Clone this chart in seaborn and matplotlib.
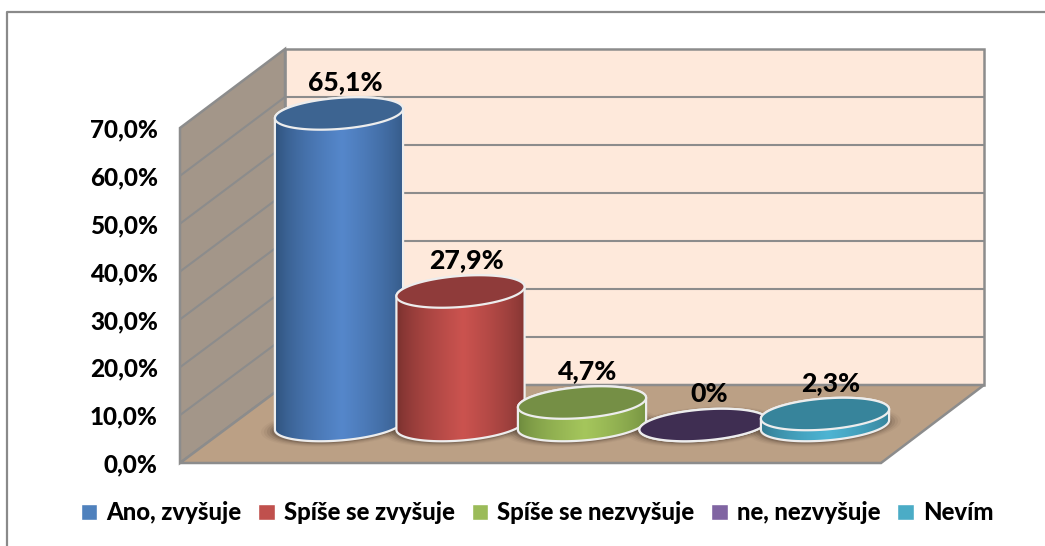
import numpy as np
import pandas as pd
import seaborn as sns
import matplotlib
matplotlib.use("Agg")
import matplotlib.pyplot as plt
from matplotlib.patches import Polygon
from matplotlib.lines import Line2D

categories = ["Ano, zvyšuje", "Spíše se zvyšuje", "Spíše se nezvyšuje", "ne, nezvyšuje", "Nevím"]
values = [65.1, 27.9, 4.7, 0.0, 2.3]
value_labels = ["65,1%", "27,9%", "4,7%", "0%", "2,3%"]
axis_ticks = [0, 10, 20, 30, 40, 50, 60, 70]
legend_colors = ["#4F81BD", "#C0504D", "#9BBB59", "#8064A2", "#4BACC6"]
top_colors = ["#3D6491", "#8F3B3A", "#758F45", "#3F2E52", "#37849B"]
mid_colors = ["#5587CB", "#CB534F", "#A5C65C", "#8064A2", "#4DB4D3"]
edge_colors = ["#2B4C73", "#6E2C2A", "#67833A", "#4A3A60", "#2F7388"]

W, H = 1045, 546
PX_X = 121.5     # pixels per category step
PX_V = 4.786     # pixels per percentage point
X0, Y0 = 339.0, 425.0   # pixel of first bar's base centre
FONT = "Lato"
WEIGHT = 900
FS_TICK = 17.5
FS_VAL = 19.2
FS_LEG = 17.2

sns.set_theme(style="white", rc={"font.family": FONT, "font.weight": "bold"})
fig = plt.figure(figsize=(W / 100, H / 100), dpi=100, facecolor="white")

ax = fig.add_axes([0, 0, 1, 1])
ax.set_xlim((0 - X0) / PX_X, (W - X0) / PX_X)
ax.set_ylim((Y0 - H) / PX_V, Y0 / PX_V)
ax.set_axis_off()

def d(px, py):
    """pixel position -> data position on the main axes"""
    return (np.asarray(px, float) - X0) / PX_X, (Y0 - np.asarray(py, float)) / PX_V

def poly(pts, **kw):
    xs, ys = d(*zip(*pts))
    p = Polygon(np.column_stack([xs, ys]), closed=True, **kw)
    ax.add_patch(p)
    return p

GRAY = "#8C8C8C"
# walls and floor
FL, FR, FB = 180, 881, 463
BL, BR, BB = 285, 984, 385
top_f = FB - 47.86 * (axis_ticks[-1] / 10)
top_b = BB - 48.0 * (axis_ticks[-1] / 10)
poly([(BL, top_b), (BR, top_b), (BR, BB), (BL, BB)], fc="#FEE9DB", ec=GRAY, lw=1.8, zorder=1)
poly([(FL, top_f), (BL, top_b), (BL, BB), (FL, FB)], fc="#A39689", ec=GRAY, lw=1.8, zorder=1.1)
for t in axis_ticks[1:-1]:
    k = t / 10
    gx, gy = d([FL, BL, BR], [FB - 47.86 * k, BB - 48.0 * k, BB - 48.0 * k])
    ax.plot(gx, gy, color=GRAY, lw=1.5, zorder=1.15, solid_capstyle="butt")
poly([(FL, FB), (FR, FB), (BR, BB), (BL, BB)], fc="#BBA085", ec=GRAY, lw=1.8, zorder=1.2)

# frame: left and top rules only
fig.add_artist(Line2D([7 / W, 7 / W, 1], [0, 1 - 11.5 / H, 1 - 11.5 / H], color="#8A8A8A", lw=1.6))

# bars through seaborn, reshaped into cylinders afterwards
df = pd.DataFrame({"pos": np.arange(len(values)), "value": values, "category": categories})
sns.barplot(data=df, x="pos", y="value", hue="category", hue_order=categories,
            palette=legend_colors, saturation=1, native_scale=True, dodge=False,
            width=1.055, ax=ax, legend=True, zorder=3)
ax.set_xlim((0 - X0) / PX_X, (W - X0) / PX_X)
ax.set_ylim((Y0 - H) / PX_V, Y0 / PX_V)
ax.set_axis_off()
bars = sorted([b for c in ax.containers for b in c], key=lambda b: b.get_x())

TILT = np.deg2rad(4.5)
MINOR = 15.5

def ell(cx, cy, a, b, t):
    ex = a * np.cos(t)
    ey = b * np.sin(t)
    return cx + ex * np.cos(TILT) + ey * np.sin(TILT), cy - ex * np.sin(TILT) + ey * np.cos(TILT)

def ell_poly(cx, cy, a, b, **kw):
    t = np.linspace(0, 2 * np.pi, 180)
    return poly(list(zip(*ell(cx, cy, a, b, t))), **kw)

def rgb(h):
    return np.array(matplotlib.colors.to_rgb(h))

LINE = "#EDEDED"
for i, b in enumerate(bars):
    z = 3 + i
    cx = X0 + (b.get_x() + b.get_width() / 2) * PX_X
    v = b.get_height()
    a = b.get_width() * PX_X / 2 / np.cos(TILT)
    cy_top = Y0 - v * PX_V
    # soft floor shadow
    for grow, al in zip([13, 10, 7, 4, 2], [0.05, 0.08, 0.12, 0.16, 0.2]):
        ell_poly(cx - 1, Y0 + 1.5, a + grow, MINOR + grow * 0.3, fc="#4A3C30", ec="none", alpha=al,
                 zorder=2 + i * 0.1)
    tb = np.linspace(0, np.pi, 60)            # lower half of an ellipse, right to left
    bottom = list(zip(*ell(cx, Y0, a, MINOR, tb)))
    tt = np.linspace(np.pi, 2 * np.pi, 60)    # upper half, left to right
    top = list(zip(*ell(cx, cy_top, a, MINOR, tt)))
    xs, ys = d(*zip(*(bottom + top)))
    body = Polygon(np.column_stack([xs, ys]), closed=True, fc="none", ec=LINE, lw=1.6, zorder=z + 0.3)
    ax.add_patch(body)
    b.set_zorder(z)
    b.set_clip_path(body)
    if v > 0:
        u = np.linspace(0, 1, 256)
        w = np.clip(1 - np.abs(u - 0.52) / 0.52, 0, 1) ** 0.6
        grad = (rgb(edge_colors[i])[None, :] * (1 - w[:, None]) + rgb(mid_colors[i])[None, :] * w[:, None])[None, :, :]
        x0, y0 = d(cx - a - 1, Y0 + MINOR + 4)
        x1, y1 = d(cx + a + 1, cy_top - MINOR - 4)
        im = ax.imshow(grad, extent=[x0, x1, y0, y1], aspect="auto", zorder=z + 0.1)
        im.set_clip_path(body)
    ell_poly(cx, cy_top, a, MINOR, fc=top_colors[i], ec=LINE, lw=1.6, zorder=z + 0.5)
    lx, ly = d(cx, cy_top)
    ax.annotate(value_labels[i], (lx, ly), xytext=(6, 31), textcoords="offset pixels",
                ha="center", va="center", fontsize=FS_VAL, fontweight=WEIGHT, color="black",
                family=FONT, zorder=20, annotation_clip=False)
ax.set_xlim((0 - X0) / PX_X, (W - X0) / PX_X)
ax.set_ylim((Y0 - H) / PX_V, Y0 / PX_V)

# value axis on the front edge of the side wall
ay = fig.add_axes([FL / W, 1 - FB / H, 0.001, (FB - top_f) / H], facecolor="none")
ay.set_ylim(axis_ticks[0], axis_ticks[-1])
ay.set_xticks([])
ay.set_yticks(axis_ticks)
ay.set_yticklabels([f"{t:.1f}%".replace(".", ",") for t in axis_ticks],
                   fontsize=FS_TICK, fontweight=WEIGHT, color="black", family=FONT)
ay.tick_params(axis="y", length=0, pad=16)
for s in ay.spines.values():
    s.set_visible(False)

# legend
sns.move_legend(ax, "center", bbox_to_anchor=(537 / W, 1 - 513 / H), bbox_transform=fig.transFigure,
                ncol=5, frameon=False, title=None, fontsize=FS_LEG, handlelength=0.68, handleheight=0.68,
                handletextpad=0.38, columnspacing=0.72, borderpad=0, labelspacing=0)
leg = ax.get_legend()
leg.set_zorder(30)
for t in leg.get_texts():
    t.set_fontweight(WEIGHT)
    t.set_color("black")
    t.set_family(FONT)

fig.savefig("out.png", dpi=100, facecolor="white")
